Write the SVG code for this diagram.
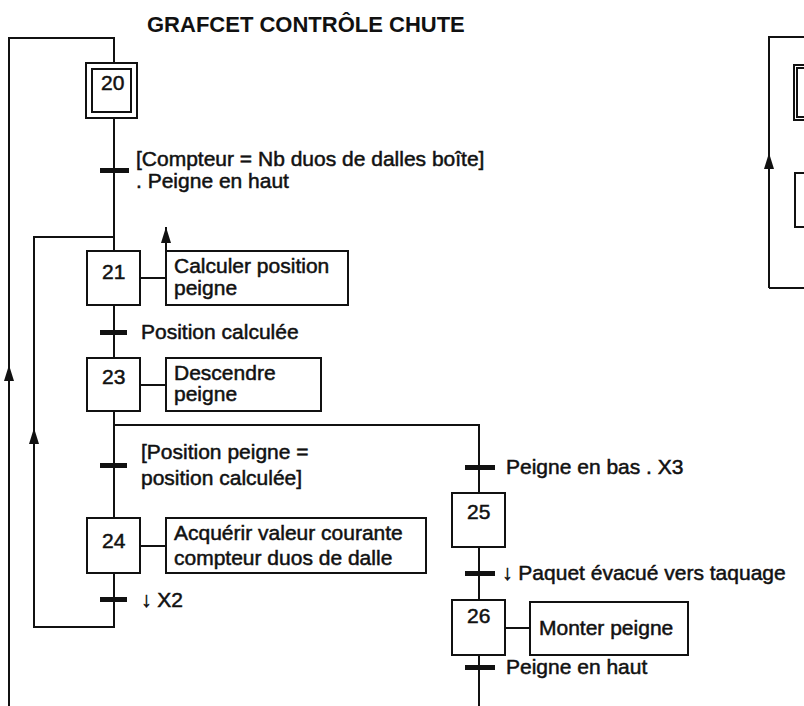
<svg xmlns="http://www.w3.org/2000/svg" width="804" height="706" viewBox="0 0 804 706">
<style>
  .ln { fill: none; stroke: #111; stroke-width: 2; }
  .box { fill: #fff; stroke: #111; stroke-width: 2; }
  .bar { fill: #111; }
  .t { font-family: "Liberation Sans", Arial, sans-serif; font-size: 21px; fill: #111; stroke: #111; stroke-width: 0.5; }
  .title { font-family: "Liberation Sans", Arial, sans-serif; font-size: 22px; font-weight: bold; fill: #111; }
</style>
<defs>
  <marker id="up" viewBox="0 0 10 16" refX="5" refY="0" markerWidth="10" markerHeight="16" markerUnits="userSpaceOnUse" orient="0">
    <path d="M5 0 L10 16 L0 16 Z" fill="#111"/>
  </marker>
</defs>
<rect width="804" height="706" fill="#fff"/>
<text class="title" x="147" y="32">GRAFCET CONTRÔLE CHUTE</text>

<g id="connectors">
  <path class="ln" d="M9 706 V365" marker-end="url(#up)"/>
  <path class="ln" d="M9 366 V38 H114 V63"/>
  <path class="ln" d="M114 118 V251"/>
  <path class="ln" d="M114 305 V358"/>
  <path class="ln" d="M114 411 V518"/>
  <path class="ln" d="M114 573 V627 H34 V428" marker-end="url(#up)"/>
  <path class="ln" d="M34 429 V237 H114"/>
  <path class="ln" d="M114 425 H479 V493"/>
  <path class="ln" d="M479 547 V600"/>
  <path class="ln" d="M479 655 V706"/>
  <path class="ln" d="M140 278 H166"/>
  <path class="ln" d="M166 251 V227" marker-end="url(#up)"/>
  <path class="ln" d="M140 385 H166"/>
  <path class="ln" d="M140 546 H166"/>
  <path class="ln" d="M505 628 H530"/>
  <rect class="bar" x="100" y="168" width="29" height="5"/>
  <rect class="bar" x="100" y="330" width="27" height="5"/>
  <rect class="bar" x="100" y="463" width="27" height="5"/>
  <rect class="bar" x="100" y="597" width="27" height="5"/>
  <rect class="bar" x="465" y="465" width="30" height="5"/>
  <rect class="bar" x="465" y="571" width="30" height="5"/>
  <rect class="bar" x="465" y="665" width="30" height="5"/>
  <path class="ln" d="M804 37 H769 V153"/>
  <path class="ln" d="M769 288 V153" marker-end="url(#up)"/>
  <path class="ln" d="M769 288 H804"/>
</g>

<g id="transition-labels">
  <text class="t" x="136" y="166">[Compteur = Nb duos de dalles boîte]</text>
  <text class="t" x="136" y="188">. Peigne en haut</text>
  <text class="t" x="141" y="339">Position calculée</text>
  <text class="t" x="141" y="459">[Position peigne =</text>
  <text class="t" x="141" y="485">position calculée]</text>
  <text class="t" x="141" y="607">↓ X2</text>
  <text class="t" x="506" y="474">Peigne en bas . X3</text>
  <text class="t" x="502" y="580">↓ Paquet évacué vers taquage</text>
  <text class="t" x="506" y="674">Peigne en haut</text>
</g>

<g id="step20">
  <rect class="box" x="86" y="63" width="51" height="55"/>
  <rect class="box" x="92" y="69" width="39" height="43"/>
  <text class="t" x="101" y="90">20</text>
</g>
<g id="step21">
  <rect class="box" x="87" y="251" width="53" height="54"/>
  <text class="t" x="102" y="279">21</text>
</g>
<g id="action21">
  <rect class="box" x="166" y="251" width="182" height="54"/>
  <text class="t" x="174" y="273">Calculer position</text>
  <text class="t" x="174" y="295">peigne</text>
</g>
<g id="step23">
  <rect class="box" x="87" y="358" width="53" height="53"/>
  <text class="t" x="102" y="384">23</text>
</g>
<g id="action23">
  <rect class="box" x="166" y="358" width="155" height="53"/>
  <text class="t" x="174" y="380">Descendre</text>
  <text class="t" x="174" y="401">peigne</text>
</g>
<g id="step24">
  <rect class="box" x="87" y="518" width="53" height="55"/>
  <text class="t" x="102" y="548">24</text>
</g>
<g id="action24">
  <rect class="box" x="166" y="518" width="260" height="55"/>
  <text class="t" x="174" y="540">Acquérir valeur courante</text>
  <text class="t" x="174" y="565">compteur duos de dalle</text>
</g>
<g id="step25">
  <rect class="box" x="452" y="493" width="53" height="54"/>
  <text class="t" x="467" y="519">25</text>
</g>
<g id="step26">
  <rect class="box" x="452" y="600" width="53" height="55"/>
  <text class="t" x="467" y="623">26</text>
</g>
<g id="action26">
  <rect class="box" x="530" y="602" width="158" height="53"/>
  <text class="t" x="539" y="635">Monter peigne</text>
</g>
<g id="next-step-double">
  <rect class="box" x="794" y="65" width="20" height="55"/>
  <rect class="box" x="797" y="68" width="20" height="49"/>
</g>
<g id="next-step">
  <rect class="box" x="795" y="173" width="20" height="54"/>
</g>
</svg>
